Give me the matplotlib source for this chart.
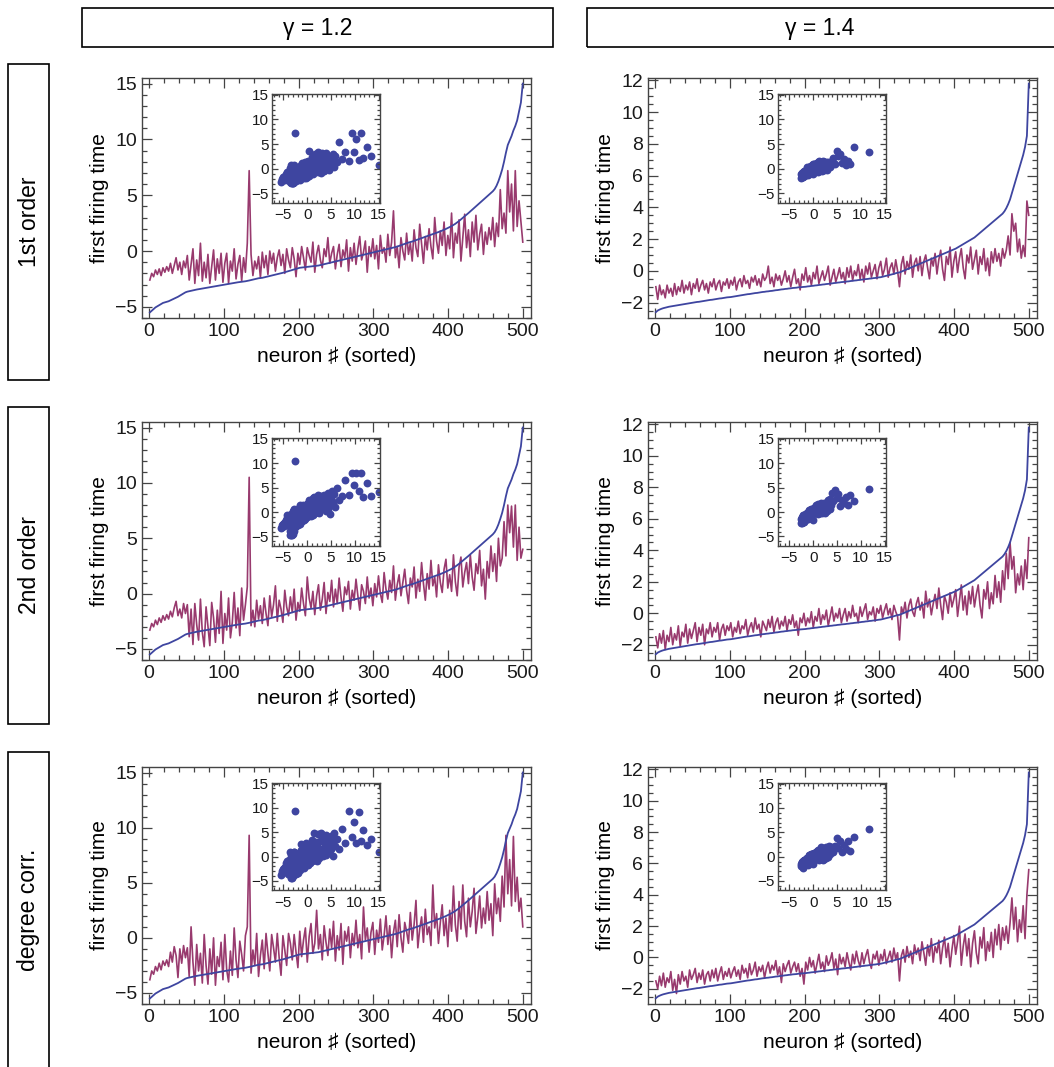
import matplotlib.pyplot as plt
import numpy as np
from matplotlib.patches import Rectangle
from matplotlib.ticker import MultipleLocator

plt.rcParams['font.family'] = ['Liberation Sans', 'DejaVu Sans']

# column / row headers
gammas = ['γ = 1.2', 'γ = 1.4']
rows = ['1st order', '2nd order', 'degree corr.']

# neuron index (sorted), sampled every ~2.5 neurons
neuron = np.linspace(1, 500, 200)

# sorted first firing time (blue), one curve per gamma
blue_12 = [
    -5.5, -5.35, -5.2, -5.05, -4.95, -4.85, -4.75, -4.65, -4.6, -4.55,
    -4.5, -4.42, -4.34, -4.26, -4.18, -4.1, -4.0, -3.9, -3.8, -3.7,
    -3.64, -3.6, -3.56, -3.52, -3.48, -3.45, -3.42, -3.39, -3.36, -3.33,
    -3.3, -3.27, -3.24, -3.21, -3.18, -3.15, -3.12, -3.09, -3.06, -3.03,
    -3.0, -2.97, -2.94, -2.91, -2.88, -2.86, -2.83, -2.8, -2.78, -2.76,
    -2.74, -2.71, -2.68, -2.64, -2.6, -2.56, -2.52, -2.48, -2.44, -2.42,
    -2.4, -2.36, -2.32, -2.28, -2.24, -2.2, -2.16, -2.12, -2.08, -2.04,
    -2.0, -1.95, -1.9, -1.85, -1.8, -1.75, -1.7, -1.65, -1.6, -1.55,
    -1.5, -1.48, -1.46, -1.44, -1.42, -1.4, -1.38, -1.36, -1.34, -1.32,
    -1.3, -1.26, -1.22, -1.18, -1.14, -1.1, -1.06, -1.02, -0.98, -0.94,
    -0.9, -0.86, -0.82, -0.78, -0.74, -0.7, -0.66, -0.62, -0.58, -0.54,
    -0.5, -0.46, -0.42, -0.38, -0.34, -0.3, -0.26, -0.22, -0.18, -0.14,
    -0.1, -0.06, -0.02, 0.02, 0.06, 0.1, 0.14, 0.18, 0.22, 0.26,
    0.3, 0.35, 0.4, 0.46, 0.52, 0.58, 0.64, 0.7, 0.76, 0.8,
    0.85, 0.91, 0.97, 1.03, 1.09, 1.15, 1.21, 1.27, 1.33, 1.39,
    1.45, 1.5, 1.56, 1.62, 1.69, 1.76, 1.83, 1.9, 1.98, 2.06,
    2.14, 2.23, 2.33, 2.44, 2.56, 2.69, 2.83, 2.97, 3.11, 3.25,
    3.4, 3.55, 3.7, 3.85, 4.0, 4.15, 4.3, 4.45, 4.6, 4.75,
    4.9, 5.05, 5.2, 5.35, 5.55, 5.85, 6.25, 6.75, 7.3, 8.0,
    8.8, 9.5, 9.9, 10.3, 10.8, 11.2, 11.7, 12.5, 13.3, 15.0]
blue_14 = [
    -2.6, -2.5, -2.44, -2.39, -2.35, -2.32, -2.29, -2.26, -2.24, -2.22,
    -2.2, -2.18, -2.16, -2.14, -2.12, -2.1, -2.08, -2.06, -2.04, -2.02,
    -2.0, -1.98, -1.96, -1.95, -1.93, -1.91, -1.89, -1.87, -1.85, -1.83,
    -1.82, -1.8, -1.78, -1.76, -1.74, -1.73, -1.71, -1.69, -1.67, -1.66,
    -1.65, -1.63, -1.61, -1.59, -1.57, -1.55, -1.53, -1.51, -1.49, -1.47,
    -1.46, -1.44, -1.42, -1.4, -1.39, -1.37, -1.35, -1.33, -1.32, -1.3,
    -1.29, -1.27, -1.26, -1.24, -1.22, -1.21, -1.19, -1.17, -1.16, -1.14,
    -1.13, -1.11, -1.1, -1.08, -1.07, -1.06, -1.04, -1.03, -1.02, -1.01,
    -1.0, -0.98, -0.97, -0.95, -0.94, -0.92, -0.91, -0.89, -0.88, -0.86,
    -0.85, -0.83, -0.82, -0.8, -0.79, -0.77, -0.76, -0.74, -0.73, -0.71,
    -0.7, -0.69, -0.67, -0.66, -0.64, -0.63, -0.61, -0.6, -0.58, -0.57,
    -0.55, -0.54, -0.52, -0.51, -0.49, -0.48, -0.46, -0.45, -0.43, -0.41,
    -0.4, -0.37, -0.34, -0.31, -0.28, -0.25, -0.22, -0.19, -0.15, -0.12,
    -0.1, -0.05, 0.0, 0.05, 0.1, 0.15, 0.2, 0.25, 0.3, 0.35,
    0.4, 0.45, 0.5, 0.55, 0.6, 0.65, 0.7, 0.75, 0.8, 0.85,
    0.9, 0.95, 1.0, 1.05, 1.1, 1.15, 1.2, 1.25, 1.3, 1.35,
    1.4, 1.47, 1.54, 1.61, 1.68, 1.75, 1.82, 1.89, 1.96, 2.03,
    2.1, 2.2, 2.3, 2.4, 2.5, 2.6, 2.7, 2.8, 2.9, 3.0,
    3.1, 3.2, 3.3, 3.4, 3.5, 3.6, 3.75, 3.95, 4.2, 4.5,
    4.9, 5.3, 5.7, 6.1, 6.5, 6.9, 7.3, 7.8, 8.5, 11.8]

# predicted first firing time (magenta), per approximation and gamma
mag_first_12 = [
    -2.6, -2.0, -2.3, -1.7, -2.1, -1.6, -2.2, -1.5, -1.9, -1.4,
    -1.8, -1.1, -2.0, -1.3, -0.6, -1.7, -1.0, -2.1, -0.9, -1.5,
    -0.4, -2.6, -1.2, 0.2, -2.9, -0.8, -2.2, 0.7, -2.7, -1.0,
    -2.4, -0.3, -2.9, -1.4, 0.1, -2.6, -0.7, -2.0, -0.2, -2.8,
    -1.1, -0.2, -2.9, -0.9, -1.8, 0.2, -2.5, -1.2, -0.4, -2.7,
    -0.6, -1.9, 0.7, 7.2, -0.3, -2.2, -0.9, -1.6, -0.5, -2.4,
    -0.1, -1.5, -0.4, -2.1, 0.0, -1.1, -0.2, -1.8, -0.6, 0.1,
    -1.3, -0.3, -2.0, 0.2, -0.8, -1.5, 0.3, -0.7, -2.3, -0.2,
    -1.2, 0.4, -0.6, -1.7, 0.3, -0.4, -1.0, 0.8, -1.9, -0.3,
    0.5, -0.8, -1.5, 0.2, -0.5, 1.2, -1.1, -0.2, 0.4, -1.6,
    -0.3, 0.6, -1.4, 0.1, -0.6, 1.0, -1.8, 0.3, -0.9, 0.7,
    -1.2, 0.2, 1.3, -0.8, -0.1, 0.9, -1.9, 0.4, -0.5, 1.1,
    -0.7, 0.5, -1.6, 1.4, -0.2, 0.3, -1.0, 1.5, -0.4, 0.8,
    3.6, -0.6, 0.4, -1.5, 1.2, 0.0, -0.8, 1.6, -0.3, 0.7,
    -0.9, 1.9, 0.3, -0.5, 2.4, 0.6, -1.1, 1.3, 0.1, 2.0,
    0.4, -0.7, 3.0, 0.9, -0.2, 1.8, 0.5, 2.6, -0.4, 1.4,
    0.2, 3.4, -0.6, 1.6, 0.7, 2.8, -0.9, 1.2, 3.3, 0.3,
    1.9, -0.5, 2.6, 0.8, 3.2, 0.1, 1.5, 2.4, -0.3, 1.7,
    0.6, 2.1, 1.0, 3.0, 0.4, 2.5, 1.3, 5.5, 2.0, 3.4,
    1.6, 7.2, 3.5, 6.0, 1.8, 7.2, 2.2, 4.5, 2.6, 0.8]
mag_first_14 = [
    -1.0, -1.8, -0.9, -1.5, -1.2, -1.7, -0.9, -1.4, -1.1, -1.6,
    -0.8, -1.5, -1.0, -1.3, -0.6, -1.4, -0.9, -1.2, -0.7, -1.5,
    -0.8, -1.1, -0.5, -1.3, -0.9, -0.6, -1.2, -0.8, -1.4, -0.7,
    -1.0, -0.5, -1.2, -0.8, -0.6, -1.3, -0.7, -0.9, -0.5, -1.1,
    -0.6, -0.9, -0.4, -1.2, -0.7, -0.5, -1.0, -0.3, -0.8, -0.6,
    -1.1, -0.4, -0.7, -0.3, -0.9, -0.5, -1.0, -0.2, -0.6, -0.4,
    0.3, -0.8, -0.4, -1.0, -0.2, -0.6, -0.3, -0.9, -0.5, 0.0,
    -0.7, -0.3, -1.0, -0.4, 0.1, -0.8, -0.5, -1.2, -0.2, -0.6,
    0.2, -0.7, -0.3, -0.9, -0.1, -0.5, 0.3, -0.8, -0.4, 0.0,
    -0.6, -0.2, 0.3, -0.9, -0.4, 0.1, -0.7, -0.3, 0.2, -0.5,
    -0.1, -0.8, 0.2, -0.4, 0.3, -0.6, 0.0, -0.3, 0.4, -0.5,
    0.1, -0.7, 0.3, -0.2, 0.5, -0.4, 0.0, 0.4, -0.5, 0.2,
    0.6, -0.3, 0.1, 0.8, -0.4, 0.2, 0.5, -0.2, 0.7, 0.0,
    -1.0, 0.4, 0.9, -0.2, 0.6, 0.1, 1.0, -0.4, 0.5, 0.8,
    0.0, 0.9, -0.3, 0.6, 1.0, 0.2, -0.5, 0.8, 0.3, 1.1,
    -0.2, 0.7, 1.3, 0.1, -0.6, 0.9, 0.4, 1.5, -0.4, 0.6,
    1.2, -0.1, 0.8, 1.4, 0.2, -0.5, 1.0, 0.5, 1.5, 0.1,
    0.7, 1.3, -0.2, 0.9, 0.4, 1.4, 0.0, 0.8, -0.3, 1.2,
    0.5, 1.4, 0.6, 1.1, 0.3, 1.4, 0.8, 1.3, 2.2, 1.0,
    3.6, 2.5, 3.0, 1.2, 2.0, 0.8, 1.6, 0.9, 4.4, 3.5]
mag_second_12 = [
    -3.3, -2.7, -3.0, -2.4, -2.8, -2.2, -2.6, -2.0, -2.4, -1.9,
    -2.3, -1.6, -2.1, -1.3, -0.7, -2.0, -1.4, -2.2, -0.9, -1.8,
    -1.0, -3.9, -1.4, -4.6, -0.9, -2.8, -4.2, -0.5, -3.5, -4.8,
    -1.2, -3.0, -4.7, -0.8, -2.2, -4.4, -1.5, -3.6, 0.2, -4.5,
    -1.8, -3.3, -0.4, -4.0, -2.6, 0.1, -3.1, -1.3, -3.8, 0.5,
    -2.4, -1.0, 0.6, 10.5, -2.9, -1.5, -3.0, -0.6, -2.3, -1.1,
    -2.7, -0.4, -1.8, -2.9, -0.2, -2.1, -1.0, 0.7, -2.5, -0.6,
    -1.4, -2.6, 0.3, -1.2, -2.0, -0.3, -1.7, 0.4, -2.4, -0.8,
    -1.6, 0.5, -0.9, -2.0, 1.5, -0.4, -1.3, 0.2, -1.9, -0.2,
    0.8, -1.5, -0.5, 1.0, -1.8, 0.1, -0.7, 1.2, -1.2, 0.4,
    -0.9, 1.4, -0.3, -1.6, 0.6, -0.1, 1.1, -1.4, 0.3, -0.6,
    1.3, -0.2, -1.5, 0.8, 0.2, -0.9, 1.5, -0.4, 0.5, -1.1,
    0.9, -0.3, 1.6, 0.0, -0.8, 1.9, 0.4, -0.5, 1.2, 0.1,
    2.5, -0.6, 0.8, 1.7, -0.2, 1.0, 2.2, 0.3, -0.9, 1.4,
    0.6, 2.4, -0.4, 1.3, 0.2, 2.8, 0.9, -0.6, 1.8, 0.4,
    3.0, 0.7, 1.5, -0.3, 2.6, 1.0, 0.1, 2.2, 3.1, 0.5,
    1.7, 0.2, 3.5, 1.1, -0.2, 2.4, 3.3, 0.6, 1.9, 2.8,
    0.9, 3.5, 1.5, 0.3, 2.7, 1.8, 3.9, 0.7, 2.2, -0.5,
    2.9, 1.4, 4.3, 2.0, 3.6, 1.1, 5.0, 2.5, 3.2, 6.5,
    3.4, 8.0, 5.5, 7.9, 4.2, 8.0, 3.0, 6.0, 3.2, 4.0]
mag_second_14 = [
    -1.5, -2.2, -1.3, -1.9, -1.1, -2.3, -1.4, -1.8, -0.9, -2.0,
    -1.3, -1.7, -0.8, -2.1, -1.2, -1.5, -0.7, -1.9, -1.0, -1.6,
    -1.1, -0.6, -1.8, -0.9, -1.4, -0.7, -2.0, -1.0, -1.3, -0.6,
    -1.5, -0.9, -1.2, -0.6, -1.7, -1.0, -0.7, -1.4, -0.8, -1.1,
    -0.6, -1.5, -0.9, -1.2, -0.5, -1.3, -0.8, -1.0, -0.4, -1.4,
    -0.9, -0.6, -1.2, -0.3, -1.0, -0.7, -1.5, -0.5, -0.8, -1.1,
    -0.4, -0.9, -0.2, -1.2, -0.6, -0.3, -1.0, -0.5, -0.8, -0.2,
    -1.1, -0.4, -0.7, -0.1, -0.9, -0.5, -1.4, -0.3, -0.6, 0.0,
    -0.8, -0.3, -0.6, 0.1, -0.9, -0.2, -0.5, 0.3, -0.7, -0.1,
    -0.4, 0.2, -0.8, -0.2, 0.4, -0.5, 0.0, -0.3, 0.3, -0.6,
    -0.1, 0.3, -0.5, 0.1, -0.3, 0.5, -0.2, 0.0, -0.6, 0.4,
    -0.2, 0.2, 0.6, -0.4, 0.1, -0.1, 0.4, -0.5, 0.3, 0.0,
    0.5, -0.3, 0.2, 0.6, -0.1, 0.3, -0.4, 0.5, 0.1, -0.2,
    -1.7, 0.4, 0.0, 0.7, -0.3, 0.5, 0.9, 0.1, -0.2, 0.6,
    1.0, 0.2, 0.7, -0.3, 1.4, 0.4, 0.9, -0.1, 0.6, 1.2,
    0.3, 1.6, 0.5, -0.4, 1.1, 0.7, 0.0, 1.3, 0.4, 0.9,
    1.5, -0.2, 0.8, 1.8, 0.2, 1.1, -0.1, 1.4, 0.6, 1.7,
    0.4, 1.2, 1.8, 0.5, -0.3, 1.5, 0.9, 2.0, 0.3, 1.3,
    0.6, 2.4, 1.0, 2.0, 0.7, 2.7, 1.5, 3.8, 2.2, 4.5,
    2.8, 3.6, 1.3, 2.5, 1.8, 3.0, 1.5, 3.4, 2.2, 4.8]
mag_degree_12 = [
    -3.8, -3.0, -3.3, -2.6, -3.0, -2.3, -2.9, -2.1, -2.5, -2.0,
    -2.6, -1.3, -2.2, -0.8, -1.6, -3.6, -1.0, -2.3, -0.7, -1.8,
    -0.9, -3.5, 1.0, -2.2, -4.3, -0.6, -3.0, -1.4, -4.1, 0.3,
    -2.5, -4.2, -1.0, -3.3, 0.0, -4.3, -1.7, -2.6, -0.4, -3.8,
    0.3, -2.9, -4.0, -1.2, -3.4, 0.9, -2.0, -3.6, -0.3, -1.5,
    -3.0, 0.2, 1.0, 9.3, -3.2, -1.1, -2.5, 0.4, -3.5, -1.6,
    -0.2, -2.8, 0.4, -1.4, -3.0, 0.3, -0.9, -2.2, 0.4, -1.8,
    -3.4, 0.2, -1.1, -2.5, 0.4, -0.5, -2.0, 0.3, -1.3, -2.7,
    0.6, -1.7, -0.2, 0.9, -2.2, 0.1, 1.3, -1.4, -0.5, 2.5,
    -1.0, 0.3, -2.0, 1.1, -0.4, -1.6, 0.8, -0.9, 1.5, -2.1,
    0.2, -1.1, 1.3, -2.4, 0.6, -0.3, 1.0, -1.8, 0.4, -0.7,
    1.6, -0.9, 0.3, -1.9, 2.8, -0.2, 0.9, -1.3, 0.5, 1.4,
    -1.5, 0.7, -0.4, 1.7, -1.1, 0.2, 2.0, -0.6, 1.1, -1.8,
    0.5, 1.6, -0.8, 2.1, 0.0, -1.3, 1.4, 0.6, -0.5, 2.3,
    -0.2, 1.2, 3.4, -0.9, 0.8, 1.9, -0.4, 2.6, 0.3, 1.0,
    -0.7, 4.8, 0.9, 2.2, -0.5, 1.4, 3.0, 0.2, 1.8, -0.8,
    2.5, 0.6, 4.7, 1.2, -0.3, 3.3, 0.8, 4.8, 1.5, 0.1,
    3.6, 1.0, 2.4, 4.5, 0.4, 1.9, 3.8, 0.9, 2.7, 1.3,
    4.2, 1.6, 3.1, 0.2, 4.9, 2.2, 3.6, 1.5, 5.6, 2.8,
    9.3, 4.0, 7.1, 2.9, 9.2, 3.3, 5.5, 2.4, 3.6, 1.0]
mag_degree_14 = [
    -1.5, -2.0, -1.2, -1.8, -1.0, -1.9, -1.3, -1.6, -0.9, -2.1,
    -1.4, -2.3, -1.1, -1.7, -0.9, -1.5, -1.2, -1.9, -0.8, -1.4,
    -1.1, -0.7, -1.6, -1.0, -1.4, -0.8, -1.7, -1.1, -0.9, -1.5,
    -0.8, -1.3, -0.7, -1.5, -1.0, -0.6, -1.4, -0.9, -1.2, -0.7,
    -1.3, -0.9, -0.6, -1.2, -0.8, -1.4, -0.5, -1.0, -0.7, -1.3,
    -0.4, -1.1, -0.8, -0.3, -1.2, -0.6, -0.9, -0.5, -1.3, -0.7,
    -0.3, -1.0, -0.5, -0.8, -0.2, -1.1, -0.6, -1.6, -0.4, -0.9,
    -0.5, -0.2, -1.0, -0.6, -0.3, -0.9, -0.4, -1.2, -0.7, -1.7,
    -0.3, -0.8, 0.0, -0.6, -0.2, -1.0, -0.4, 0.2, -0.7, -0.3,
    -0.9, 0.1, -0.5, -0.2, 0.3, -0.7, -0.1, -1.1, 0.2, -0.4,
    0.0, -0.6, 0.3, -0.3, -0.8, 0.2, -0.4, 0.4, -0.2, -0.6,
    0.3, -0.4, 0.1, 0.5, -0.3, -0.7, 0.2, -0.1, 0.4, -0.5,
    0.2, -0.2, 0.5, -0.4, 0.0, 0.4, -0.3, 0.6, -0.1, 0.3,
    -1.5, 0.1, 0.5, -0.3, 0.7, 0.0, 0.4, -0.4, 0.8, 0.2,
    0.6, -0.2, 1.0, 0.3, -0.5, 0.8, 0.1, 1.2, -0.3, 0.7,
    0.3, 1.1, -0.4, 0.6, 1.3, 0.0, 0.9, -0.6, 0.5, 1.4,
    0.2, 1.0, 2.0, -0.5, 0.7, 1.5, 0.1, 1.2, -0.6, 0.9,
    1.7, 0.3, -0.4, 1.3, 0.6, 1.9, -0.2, 1.0, 0.4, 1.6,
    0.0, 1.8, 0.8, 2.1, 0.5, 1.9, 1.1, 2.0, 0.9, 2.2,
    3.8, 1.8, 3.2, 1.0, 2.4, 1.6, 3.3, 1.2, 4.0, 5.6]

blues = [blue_12, blue_14]
mags = [[mag_first_12, mag_first_14],
        [mag_second_12, mag_second_14],
        [mag_degree_12, mag_degree_14]]

BLUE = '#3e45a0'
MAG = '#983a6e'
FRAME = '#444444'

W, H = 1054, 1067
fig = plt.figure(figsize=(W / 100, H / 100), dpi=100)


def box(x0, y0, x1, y1):
    # rectangle given in pixel coords from the top left
    fig.add_artist(Rectangle((x0 / W, 1 - y1 / H), (x1 - x0) / W, (y1 - y0) / H,
                             transform=fig.transFigure, fill=False,
                             lw=1.2, edgecolor='black'))


# column headers
col_boxes = [(82, 553), (587, 1060)]
col_centers = [318, 820]
for (x0, x1), xc, g in zip(col_boxes, col_centers, gammas):
    box(x0, 8, x1, 47)
    fig.text(xc / W, 1 - 28 / H, g, ha='center', va='center', fontsize=16.5)

# row headers
row_boxes = [(64, 380), (407, 724), (752, 1075)]
row_centers = [222, 565, 910]
for (y0, y1), yc, r in zip(row_boxes, row_centers, rows):
    box(8, y0, 49, y1)
    fig.text(29 / W, 1 - yc / H, r, ha='center', va='center',
             rotation=90, fontsize=16.5)

lefts = [142, 648]
rights = [531, 1037]
tops = [78, 422, 767]
bottoms = [318, 660, 1004]
ylims = [(-6.0, 15.5), (-2.97, 12.15)]
ymajor = [5, 2]
yminor = [1, 0.5]


def style(ax, fs, maj, mino):
    for s in ax.spines.values():
        s.set_color(FRAME)
        s.set_linewidth(1.0)
    ax.tick_params(which='both', direction='in', top=True, right=True,
                   colors=FRAME, labelcolor='#1a1a1a', labelsize=fs, width=0.9)
    ax.tick_params(which='major', length=maj)
    ax.tick_params(which='minor', length=mino)


for r in range(3):
    for c in range(2):
        l, rr, t, b = lefts[c], rights[c], tops[r], bottoms[r]
        ax = fig.add_axes([l / W, 1 - b / H, (rr - l) / W, (b - t) / H])
        ax.plot(neuron, mags[r][c], color=MAG, lw=1.2)
        ax.plot(neuron, blues[c], color=BLUE, lw=1.3)
        ax.set_xlim(-9.5, 511)
        ax.set_ylim(*ylims[c])
        ax.xaxis.set_major_locator(MultipleLocator(100))
        ax.xaxis.set_minor_locator(MultipleLocator(20))
        ax.yaxis.set_major_locator(MultipleLocator(ymajor[c]))
        ax.yaxis.set_minor_locator(MultipleLocator(yminor[c]))
        style(ax, 14, 7, 3.5)
        ax.set_xlabel('neuron ♯ (sorted)', fontsize=15, labelpad=5)
        ax.set_ylabel('first firing time', fontsize=15, labelpad=4)

        ins = ax.inset_axes([0.333, 0.48, 0.279, 0.452])
        ins.scatter(blues[c], mags[r][c], s=32, color=BLUE, linewidths=0)
        ins.set_xlim(-7.5, 15.3)
        ins.set_ylim(-6.9, 15.1)
        ins.xaxis.set_major_locator(MultipleLocator(5))
        ins.xaxis.set_minor_locator(MultipleLocator(1))
        ins.yaxis.set_major_locator(MultipleLocator(5))
        ins.yaxis.set_minor_locator(MultipleLocator(1))
        style(ins, 11, 4, 2)
        ins.tick_params(axis='y', pad=2)
        ins.tick_params(axis='x', pad=4)

fig.savefig('out.png', dpi=100)
